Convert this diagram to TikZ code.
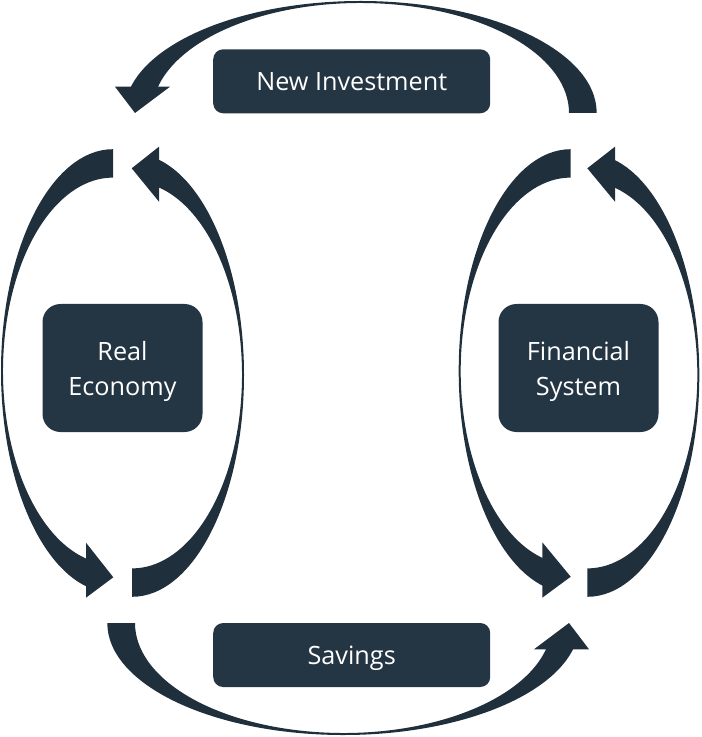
\documentclass[tikz,border=0pt]{standalone}
\usepackage{fontspec}
\setmainfont{Open Sans}
\usetikzlibrary{calc}
\definecolor{boxslate}{RGB}{36,53,67}
\definecolor{arcslate}{RGB}{32,47,60}

\begin{document}
\begin{tikzpicture}[x=0.75pt,y=0.75pt,yscale=-1,xscale=1,
    arcshape/.style={fill=arcslate},
    widebox/.style={fill=boxslate, rounded corners=7.5pt, minimum width=207.75pt, minimum height=48pt, inner sep=0pt, text depth=0pt, text=white, font=\fontsize{18.9}{26.25}\selectfont},
    sidebox/.style={fill=boxslate, rounded corners=13.5pt, minimum width=120pt, minimum height=96pt, inner sep=0pt, text depth=0pt, text=white, align=center, font=\fontsize{18.9}{26.25}\selectfont}]
        \useasboundingbox (0,0) rectangle (701,737);
        % Arc centres
        \coordinate (cl1) at (113,371);
        \coordinate (cl2) at (132,375);
        \coordinate (cr1) at (570.7,371);
        \coordinate (cr2) at (587.3,375);
        \coordinate (ct) at (360.5,113);
        \coordinate (cb) at (343.5,623);
        %Shape: Arc [left, going down]
        \fill [arcshape] ($(cl1)+(270:112 and 221.8)$) arc [start angle=270, end angle=101, x radius=112, y radius=221.8] -- ($(cl1)+(101:110 and 193.4)$) arc [start angle=101, end angle=270, x radius=110, y radius=193.4] -- cycle;
        \fill [arcshape] (86,542.7) -- (113.3,577.3) -- (86,597.7) -- cycle;
        %Shape: Arc [left, going up]
        \fill [arcshape] ($(cl2)+(90:112 and 221.8)$) arc [start angle=90, end angle=-79.2, x radius=112, y radius=221.8] -- ($(cl2)+(-79.2:110 and 193.4)$) arc [start angle=-79.2, end angle=90, x radius=110, y radius=193.4] -- cycle;
        \fill [arcshape] (159,146.7) -- (131.7,168.3) -- (159,201.7) -- cycle;
        %Shape: Arc [right, going down]
        \fill [arcshape] ($(cr1)+(270:112 and 221.8)$) arc [start angle=270, end angle=101, x radius=112, y radius=221.8] -- ($(cr1)+(101:110 and 193.4)$) arc [start angle=101, end angle=270, x radius=110, y radius=193.4] -- cycle;
        \fill [arcshape] (542.3,542.3) -- (570.7,576.7) -- (542.3,597.7) -- cycle;
        %Shape: Arc [right, going up]
        \fill [arcshape] ($(cr2)+(90:112 and 221.8)$) arc [start angle=90, end angle=-79.2, x radius=112, y radius=221.8] -- ($(cr2)+(-79.2:110 and 193.4)$) arc [start angle=-79.2, end angle=90, x radius=110, y radius=193.4] -- cycle;
        \fill [arcshape] (615,146.7) -- (587.3,168.3) -- (615,201.7) -- cycle;
        %Shape: Arc [top]
        \fill [arcshape] ($(ct)+(0:236.2 and 112)$) arc [start angle=0, end angle=-170.75, x radius=236.2, y radius=112] -- ($(ct)+(-170.75:208.5 and 110)$) arc [start angle=-170.75, end angle=0, x radius=208.5, y radius=110] -- cycle;
        \fill [arcshape] (115,86.7) -- (135,113) -- (170,86.7) -- cycle;
        %Shape: Arc [bottom]
        \fill [arcshape] ($(cb)+(180:236.2 and 112)$) arc [start angle=180, end angle=9.25, x radius=236.2, y radius=112] -- ($(cb)+(9.25:208.5 and 110)$) arc [start angle=9.25, end angle=180, x radius=208.5, y radius=110] -- cycle;
        \fill [arcshape] (589,649.3) -- (569,623) -- (534,649.3) -- cycle;

        % Text Node
        \node [widebox] (inv) at (351.7,81.3) {New Investment};
        % Text Node
        \node [widebox] (sav) at (351.7,655) {Savings};
        % Text Node
        \node [sidebox] (real) at (122.5,368) {Real\\Economy};
        % Text Node
        \node [sidebox] (fin) at (578.5,368) {Financial\\System};
    \end{tikzpicture}
\end{document}
